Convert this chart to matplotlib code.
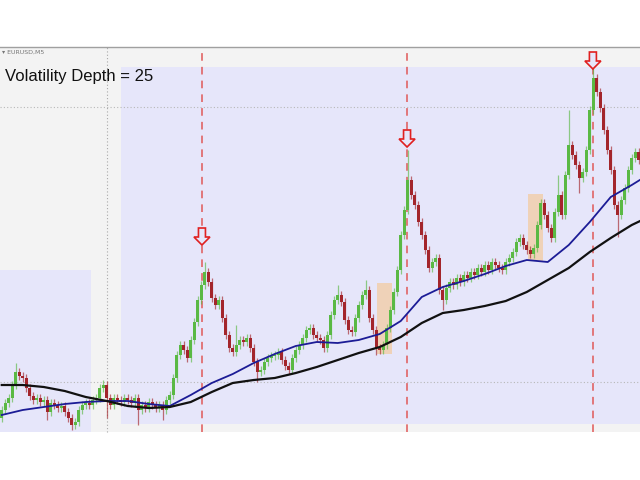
import numpy as np
import matplotlib.pyplot as plt
from matplotlib.patches import Rectangle, Polygon

# EURUSD M5 closes (chart points), one per candle
closes = [70, 77, 82, 95, 108, 104, 102, 92, 84, 80,
          82, 78, 80, 68, 77, 75, 72, 74, 68, 62,
          55, 58, 70, 75, 77, 75, 80, 82, 92, 95,
          82, 75, 82, 80, 78, 82, 80, 77, 82, 70,
          75, 72, 78, 75, 72, 75, 70, 80, 85, 102,
          125, 135, 130, 122, 140, 158, 180, 195, 208, 198,
          182, 175, 180, 162, 145, 132, 128, 135, 140, 138,
          142, 132, 118, 108, 110, 118, 122, 124, 125, 128,
          120, 114, 110, 122, 130, 135, 142, 150, 152, 145,
          142, 140, 132, 145, 165, 180, 185, 178, 160, 150,
          148, 162, 175, 185, 190, 162, 150, 132, 130, 135,
          152, 170, 188, 210, 245, 270, 300, 285, 275, 258,
          245, 230, 212, 218, 222, 190, 180, 192, 198, 195,
          202, 198, 205, 202, 208, 205, 212, 208, 215, 210,
          218, 215, 212, 210, 218, 222, 228, 238, 242, 235,
          230, 226, 232, 255, 277, 265, 252, 242, 268, 285,
          265, 305, 335, 325, 315, 302, 308, 330, 370, 402,
          388, 372, 350, 330, 310, 275, 265, 280, 292, 310,
          322, 328, 320]
first_open = 62

# long wicks (candle index -> price)
spike_high = {4: 117, 29: 100, 58: 218, 67: 155, 96: 195, 104: 200,
              116: 330, 159: 305, 162: 370, 169: 412}
spike_low = {13: 60, 20: 50, 30: 62, 39: 55, 46: 60, 73: 98,
             107: 125, 126: 170, 151: 222, 165: 287, 176: 243}

# moving averages sampled every 6 candles
ma_step = 6
ma_fast = [65, 70, 73, 76, 78, 79, 79, 76, 74, 85, 97, 106, 117, 126, 134, 138,
           137, 140, 146, 159, 183, 193, 199, 206, 214, 220, 218, 235, 258, 283,
           295, 308]
ma_slow = [95, 95, 93, 89, 83, 79, 74, 72, 73, 78, 88, 97, 100, 102, 107, 113,
           120, 127, 133, 143, 157, 167, 170, 174, 179, 188, 200, 212, 228, 242,
           255, 265]

# volatility peaks found by the indicator
signal_idx = [57.2, 115.8, 168.9]
arrow_tip = [235, 333, 411]

# colours
bull = '#5ab944'
bear = '#a3252b'
lavender = '#e6e6fa'
panel = '#f3f3f3'
peach = '#f2cda8'

px = 3.5  # pixels per candle

fig = plt.figure(figsize=(6.4, 4.8), dpi=100)
ax = fig.add_axes([0, 0, 1, 1])
ax.set_xlim(-1.75 / px, 640 / px - 0.5)
ax.set_ylim(0, 480)
ax.axis('off')

# chart panel and volatility zones
ax.add_patch(Rectangle((-1, 48), 200, 385.5, facecolor=panel, edgecolor='none', zorder=0))
ax.add_patch(Rectangle((-1, 48), 26.5, 162, facecolor=lavender, edgecolor='none', zorder=1))
ax.add_patch(Rectangle((34.1, 56), 160, 357, facecolor=lavender, edgecolor='none', zorder=1))
ax.axhline(433.5, color='#a0a0a0', lw=1, zorder=2)

# grid / period separator
for gy in [98, 373]:
    ax.axhline(gy, color='#b8b8b8', lw=0.8, ls=(0, (1, 2)), zorder=2)
ax.plot([30.1, 30.1], [48, 433], color='#a8a8a8', lw=0.8, ls=(0, (1, 2)), zorder=2)

# compression boxes
ax.add_patch(Rectangle((107.2, 126), 4.3, 71, facecolor=peach, alpha=0.8, edgecolor='none', zorder=3))
ax.add_patch(Rectangle((150.4, 219), 4.3, 67, facecolor=peach, alpha=0.8, edgecolor='none', zorder=3))

# candles
c = np.array(closes, dtype=float)
o = np.concatenate([[first_open], c[:-1]])
idx = np.arange(len(c))
hi = np.maximum(o, c) + 4
lo = np.minimum(o, c) - 4
for k, v in spike_high.items():
    hi[k] = v
for k, v in spike_low.items():
    lo[k] = v
up = c >= o
cols = np.where(up, bull, bear)
ax.vlines(idx, lo, hi, colors=cols, lw=0.9, alpha=0.65, zorder=4)
body = np.maximum(np.abs(c - o), 1.5)
ax.bar(idx, body, bottom=np.minimum(o, c), width=0.75, color=cols, zorder=5)

# moving averages
ma_x = np.arange(len(ma_fast)) * ma_step
ax.plot(ma_x, ma_fast, color='#1c1c96', lw=1.3, zorder=6)
ax.plot(ma_x, ma_slow, color='#111111', lw=1.6, zorder=6)

# signal lines and arrows
for sx, ty in zip(signal_idx, arrow_tip):
    ax.plot([sx, sx], [48, 433], color='#e05858', lw=1.1, ls=(0, (5, 4)), zorder=3)
    shape = [(0, 0), (8, 8), (3.5, 8), (3.5, 17), (-3.5, 17), (-3.5, 8), (-8, 8)]
    pts = [(sx + dx / px, ty + dy) for dx, dy in shape]
    ax.add_patch(Polygon(pts, closed=True, facecolor=lavender, edgecolor='#e02020', lw=1.2, zorder=7))

ax.text(5 / px - 0.5, 404, 'Volatility Depth = 25', fontsize=12, family='Liberation Sans',
        va='center', ha='left', color='#111111', zorder=8)
ax.text(0.2, 428, '\u25be EURUSD,M5', fontsize=4.5, color='#777777', va='center', ha='left', zorder=8)

fig.savefig('out.png', dpi=100)
